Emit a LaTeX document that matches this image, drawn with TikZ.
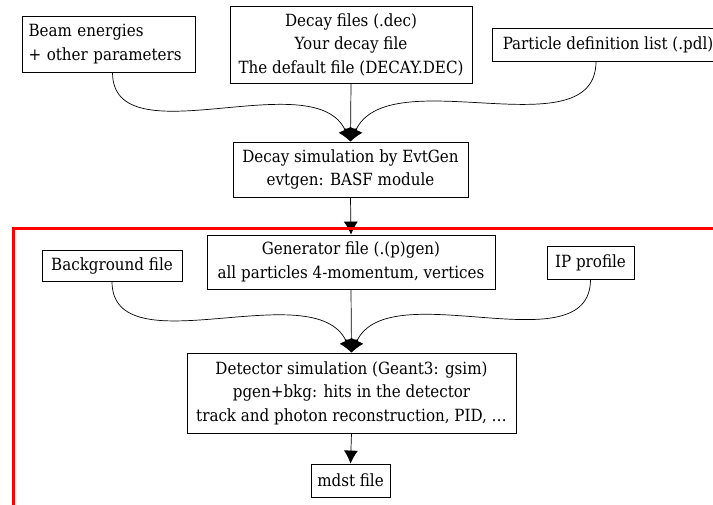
\documentclass[tikz,border=0pt]{standalone}
\usepackage{fontspec}
\setmainfont{DejaVu Serif Condensed}
\usetikzlibrary{positioning,arrows.meta}

\begin{document}
\begin{tikzpicture}[x=1pt, y=-1pt, font=\fontsize{16.8}{23.5}\selectfont,
    box/.style={draw, line width=0.8pt, fill=white, align=center, inner sep=0pt},
    flow/.style={-{Latex[length=13pt,width=14pt]}, line width=0.7pt}]
    \useasboundingbox (0,0) rectangle (713,505);
    % first stage: event generation
    \node[box, text width=160, inner xsep=6.5, minimum height=56, align=left] (beam) at (108.5,44) {Beam energies\\+ other parameters};
    \node[box, minimum width=242, minimum height=77] (dec) at (351,44.5) {Decay files (.dec)\\Your decay file\\The default file (DECAY.DEC)};
    \node[box, minimum width=232, minimum height=33] (pdl) at (608,44.5) {Particle definition list (.pdl)};
    \node[box, minimum width=235, minimum height=55] (evtgen) at (350.5,169.5) {Decay simulation by EvtGen\\evtgen: BASF module};
    \draw[flow] (beam.south) ++(4,0) to[out=-90, in=115, looseness=0.9] (evtgen.north);
    \draw[flow] (pdl.south) ++(-12,0) to[out=-90, in=65, looseness=0.9] (evtgen.north);
    \draw[flow] (dec.south) -- (evtgen.north);
    % second stage: detector simulation
    \node[box, minimum width=288, minimum height=54] (pgen) at (351,262) {Generator file (.(p)gen)\\all particles 4-momentum, vertices};
    \node[box, minimum width=140, minimum height=31] (bkg) at (112,265.5) {Background file};
    \node[box, minimum width=87, minimum height=33] (ip) at (590.5,262.5) {IP profile};
    \node[box, minimum width=329, minimum height=80] (gsim) at (351.5,393) {Detector simulation (Geant3: gsim)\\pgen+bkg: hits in the detector\\track and photon reconstruction, PID, \dots};
    \node[box, minimum width=79, minimum height=33] (mdst) at (350.5,480.5) {mdst file};
    \draw[flow] (evtgen.south) -- (pgen.north);
    \draw[flow] (bkg.south) to[out=-90, in=115, looseness=0.9] (gsim.north);
    \draw[flow] (ip.south) to[out=-90, in=65, looseness=0.9] (gsim.north);
    \draw[flow] (pgen.south) -- (gsim.north);
    \draw[flow] (gsim.south) -- (mdst.north);
    \draw[red, line width=3pt] (13,515) |- (725,229);
\end{tikzpicture}
\end{document}
